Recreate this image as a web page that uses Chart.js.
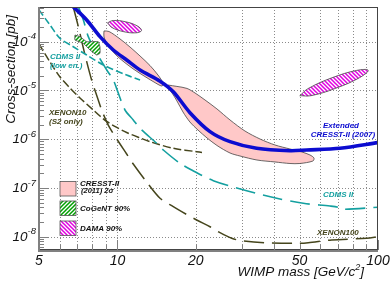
<!DOCTYPE html>
<html>
<head>
<meta charset="utf-8">
<script src="https://cdn.jsdelivr.net/npm/chart.js@4.4.1/dist/chart.umd.min.js"></script>
<style>
  html, body { margin: 0; padding: 0; background: #fff; }
  #wrap { width: 390px; height: 282px; }
</style>
</head>
<body>
<div id="wrap"><canvas id="limites" width="390" height="282"></canvas></div>
<script>
// Limites de seção de choque WIMP-núcleon [pb] x massa do WIMP [GeV/c²]
const xMin = 5, xMax = 100;
const yMin = 5.33e-9, yMax = 5.15e-4;

const xGrid = [6, 7, 8, 9, 10, 20, 30, 40, 50, 60, 70, 80, 90];
const xLabels = [5, 10, 20, 50, 100];
const yDecades = [-8, -7, -6, -5, -4];

// CRESST-II 2007 (linha azul)
const cresstM = [6.75, 7.62, 8.57, 9.64, 10.85, 12.21, 14.57, 16.38, 18.98, 22.66, 27.04, 34.22, 45.93, 53.24, 71.45, 100];
const cresstS = [5.3e-4, 2.79e-4, 1.27e-4, 6.76e-5, 4.21e-5, 2.63e-5, 1.55e-5, 9.4e-6, 3.5e-6, 1.43e-6, 8.9e-7, 6.5e-7, 5.8e-7, 6.0e-7, 6.5e-7, 8.5e-7];

// CDMS II baixa energia
const cdmsLowM = [5.0, 5.51, 6.02, 6.77, 7.62, 8.83, 10.85, 12.21];
const cdmsLowS = [4.47e-4, 2.20e-4, 1.17e-4, 7.89e-5, 5.33e-5, 3.33e-5, 2.07e-5, 1.64e-5];

// CDMS II
const cdmsM = [7.08, 7.40, 7.73, 8.20, 8.70, 9.10, 9.64, 10.08, 10.69, 11.50, 12.21, 14.14, 15.0, 17.38, 19.28, 23.33, 31.33, 40.84, 51.67, 65.4, 70.38, 72.54, 100];
const cdmsS = [5.22e-4, 2.79e-4, 1.27e-4, 6.76e-5, 3.89e-5, 2.63e-5, 1.64e-5, 8.74e-6, 3.97e-6, 2.48e-6, 1.67e-6, 8.24e-7, 6.0e-7, 3.2e-7, 2.33e-7, 1.41e-7, 8.78e-8, 6.13e-8, 4.84e-8, 4.26e-8, 4.01e-8, 3.65e-8, 4.01e-8];

// XENON10 (S2 only)
const xe10M = [5.0, 5.51, 6.02, 6.58, 7.18, 8.08, 8.57, 9.10, 9.94, 10.85, 12.21, 13.33, 16.38, 20.14, 21.11];
const xe10S = [8.97e-5, 3.83e-5, 1.89e-5, 1.12e-5, 7.0e-6, 3.97e-6, 2.99e-6, 2.31e-6, 1.74e-6, 1.37e-6, 1.06e-6, 8.89e-7, 6.51e-7, 5.54e-7, 5.33e-7];

// XENON100
const xe100M = [6.77, 7.08, 7.51, 7.96, 8.44, 8.70, 9.22, 9.94, 10.85, 11.50, 12.95, 14.57, 16.38, 17.64, 20.14, 22.66, 24.75, 27.45, 29.98, 36.83, 49.43, 54.0, 66.4, 90.46, 100];
const xe100S = [5.15e-4, 2.03e-4, 5.33e-5, 1.64e-5, 6.37e-6, 3.97e-6, 1.95e-6, 1.01e-6, 4.97e-7, 3.10e-7, 1.32e-7, 6.13e-8, 4.12e-8, 3.26e-8, 2.20e-8, 1.60e-8, 1.21e-8, 9.27e-9, 8.28e-9, 7.53e-9, 7.32e-9, 7.53e-9, 8.56e-9, 9.27e-9, 1.0e-8];

// CRESST-II (2011) 2 sigma - duas regiões
const blob1M = [8.88, 9.28, 10.23, 11.17, 12.21, 13.33, 14.31, 14.96, 14.82, 13.81, 12.65, 11.58, 10.60, 9.79, 9.20, 8.88, 8.88];
const blob1S = [1.66e-4, 1.62e-4, 1.14e-4, 7.79e-5, 5.09e-5, 3.25e-5, 2.07e-5, 1.42e-5, 1.23e-5, 1.49e-5, 1.98e-5, 2.69e-5, 3.83e-5, 5.60e-5, 8.56e-5, 1.25e-4, 1.66e-4];
const blob2M = [15.63, 16.92, 18.49, 19.85, 21.68, 24.10, 27.04, 30.87, 35.24, 40.24, 45.93, 51.07, 54.82, 56.79, 56.28, 50.17, 45.93, 40.24, 34.31, 29.53, 27.04, 24.10, 22.07, 20.38, 18.98, 17.85, 16.92, 16.20, 15.63, 15.63];
const blob2S = [1.29e-5, 1.21e-5, 1.10e-5, 8.87e-6, 6.37e-6, 4.17e-6, 2.48e-6, 1.47e-6, 1.01e-6, 7.60e-7, 6.30e-7, 5.46e-7, 4.74e-7, 4.11e-7, 3.57e-7, 3.17e-7, 3.17e-7, 3.41e-7, 3.74e-7, 4.52e-7, 5.21e-7, 7.43e-7, 1.06e-6, 1.54e-6, 2.25e-6, 3.61e-6, 6.08e-6, 8.87e-6, 1.12e-5, 1.29e-5];

// CoGeNT 90%
const cogentM = [6.87, 7.18, 7.62, 8.44, 8.57, 8.57, 8.32, 7.85, 7.40, 6.87, 6.87];
const cogentS = [1.37e-4, 1.27e-4, 1.0e-4, 1.0e-4, 7.79e-5, 5.78e-5, 5.33e-5, 6.76e-5, 9.27e-5, 1.08e-4, 1.37e-4];

// DAMA 90% - duas regiões
const dama1M = [9.16, 9.64, 10.75, 11.93, 12.37, 11.76, 10.54, 9.51, 9.16];
const dama1S = [2.44e-4, 2.72e-4, 2.56e-4, 2.10e-4, 1.69e-4, 1.52e-4, 1.61e-4, 1.96e-4, 2.44e-4];
const dama2M = [50.09, 54.05, 66.6, 82.9, 91.7, 84.97, 68.9, 55.4, 50.09];
const dama2S = [7.80e-6, 1.10e-5, 1.82e-5, 2.58e-5, 2.59e-5, 1.83e-5, 1.11e-5, 7.82e-6, 7.80e-6];

const FONTE = '"Liberation Sans", Arial, Helvetica, sans-serif';
const AZUL = '#0c0cd0', TEAL = '#14a0a0', OLIVA = '#45451c', ROSA = '#ffc8c8';

const pts = (ms, ss) => ms.map((m, i) => ({ x: m, y: ss[i] }));

const canvas = document.getElementById('limites');
const ctx0 = canvas.getContext('2d');

// padrão hachurado ('/' ou '\')
function hachura(cor, dir) {
  const s = 4;
  const c = document.createElement('canvas');
  c.width = s; c.height = s;
  const g = c.getContext('2d');
  g.fillStyle = '#fff'; g.fillRect(0, 0, s, s);
  g.strokeStyle = cor; g.lineWidth = 1.5;
  g.beginPath();
  if (dir > 0) {
    g.moveTo(-1, s + 1); g.lineTo(s + 1, -1);
    g.moveTo(-1, 1); g.lineTo(1, -1);
    g.moveTo(s - 1, s + 1); g.lineTo(s + 1, s - 1);
  } else {
    g.moveTo(-1, -1); g.lineTo(s + 1, s + 1);
    g.moveTo(s - 1, -1); g.lineTo(s + 1, 1);
    g.moveTo(-1, s - 1); g.lineTo(1, s + 1);
  }
  g.stroke();
  return ctx0.createPattern(c, 'repeat');
}
const VERDE_H = hachura('#00a000', 1);
const MAGENTA_H = hachura('#e000e0', -1);

const curva = (label, ms, ss, cor, largura, dash, order) => ({
  label, data: pts(ms, ss), showLine: true, borderColor: cor, borderWidth: largura,
  borderDash: dash, pointRadius: 0, tension: 0.3, fill: false, order
});
const regiao = (label, ms, ss, fundo, tensao) => ({
  label, data: pts(ms, ss), showLine: true, borderColor: '#444', borderWidth: 0.8,
  backgroundColor: fundo, pointRadius: 0, tension: tensao, fill: 'shape', order: 1
});

// textos de anotação
const anotacoes = [
  { t: 'CDMS II', x: 50, y: 56.5, c: TEAL },
  { t: '(low en.)', x: 50, y: 65.5, c: TEAL },
  { t: 'XENON10', x: 49, y: 112.5, c: OLIVA },
  { t: '(S2 only)', x: 49, y: 121.5, c: OLIVA },
  { t: 'Extended', x: 341, y: 125.5, c: AZUL, a: 'center' },
  { t: 'CRESST-II (2007)', x: 343, y: 134.5, c: AZUL, a: 'center' },
  { t: 'CDMS II', x: 323, y: 195, c: TEAL },
  { t: 'XENON100', x: 317, y: 232.5, c: OLIVA },
  { t: 'CRESST-II', x: 80, y: 183.5, c: '#111' },
  { t: '(2011) 2σ', x: 81, y: 190.5, c: '#111', s: 7.5 },
  { t: 'CoGeNT 90%', x: 80, y: 208.5, c: '#111' },
  { t: 'DAMA 90%', x: 80, y: 228.5, c: '#111' }
];

const eixos = {
  id: 'eixos',
  beforeDatasetsDraw(chart) {
    const { ctx, chartArea: a, scales: { x, y } } = chart;
    ctx.save();
    ctx.strokeStyle = '#8a8a8a';
    ctx.lineWidth = 1;
    ctx.setLineDash([1, 2]);
    xGrid.forEach(v => {
      const px = Math.round(x.getPixelForValue(v)) + 0.5;
      ctx.beginPath(); ctx.moveTo(px, a.top); ctx.lineTo(px, a.bottom); ctx.stroke();
    });
    yDecades.forEach(d => {
      const py = Math.round(y.getPixelForValue(Math.pow(10, d))) + 0.5;
      ctx.beginPath(); ctx.moveTo(a.left, py); ctx.lineTo(a.right, py); ctx.stroke();
    });
    ctx.restore();
  },
  afterDatasetsDraw(chart) {
    const { ctx, chartArea: a, scales: { x, y } } = chart;
    ctx.save();
    // moldura
    ctx.strokeStyle = '#444';
    ctx.lineWidth = 1;
    ctx.strokeRect(a.left + 0.5, a.top + 0.5, a.right - a.left - 1, a.bottom - a.top - 1);
    ctx.strokeStyle = '#808080';
    ctx.lineWidth = 2;
    ctx.beginPath();
    ctx.moveTo(a.left, a.top); ctx.lineTo(a.left, a.bottom + 1); ctx.lineTo(a.right, a.bottom + 1);
    ctx.stroke();

    // marcas do eixo x
    ctx.lineWidth = 1;
    [xMin].concat(xGrid, [xMax]).forEach(v => {
      const px = Math.round(x.getPixelForValue(v)) + 0.5;
      const len = (v === 10 || v === 100) ? 10 : 5;
      ctx.beginPath(); ctx.moveTo(px, a.bottom); ctx.lineTo(px, a.bottom - len); ctx.stroke();
    });
    // marcas do eixo y
    for (let d = -9; d <= -4; d++) {
      for (let k = 1; k <= 9; k++) {
        const v = k * Math.pow(10, d);
        if (v < yMin || v > yMax) continue;
        const py = Math.round(y.getPixelForValue(v)) + 0.5;
        const len = k === 1 ? 10 : 5;
        ctx.beginPath(); ctx.moveTo(a.left, py); ctx.lineTo(a.left + len, py); ctx.stroke();
      }
    }

    // rótulos
    ctx.fillStyle = '#111';
    ctx.textBaseline = 'middle';
    ctx.font = `italic 14px ${FONTE}`;
    ctx.textAlign = 'center';
    xLabels.forEach(v => ctx.fillText(String(v), x.getPixelForValue(v), 261));

    yDecades.forEach(d => {
      const py = y.getPixelForValue(Math.pow(10, d));
      const exp = String(d);
      ctx.font = `italic 9.5px ${FONTE}`;
      const we = ctx.measureText(exp).width;
      ctx.font = `italic 13.5px ${FONTE}`;
      const wb = ctx.measureText('10').width;
      ctx.textAlign = 'left';
      ctx.fillText('10', 36 - we - wb, py + 0.5);
      ctx.font = `italic 9.5px ${FONTE}`;
      ctx.fillText(exp, 36 - we, py - 5);
    });

    // títulos dos eixos
    ctx.textBaseline = 'alphabetic';
    ctx.font = `italic 13.5px ${FONTE}`;
    ctx.save();
    ctx.translate(14.5, 15);
    ctx.rotate(-Math.PI / 2);
    ctx.textAlign = 'right';
    ctx.fillText('Cross-section [pb]', 0, 0);
    ctx.restore();

    const t1 = 'WIMP mass [GeV/c', t2 = '2', t3 = ']';
    ctx.font = `italic 13.5px ${FONTE}`;
    const w1 = ctx.measureText(t1).width, w3 = ctx.measureText(t3).width;
    ctx.font = `italic 9px ${FONTE}`;
    const w2 = ctx.measureText(t2).width;
    let xx = 364 - w1 - w2 - w3;
    ctx.textAlign = 'left';
    ctx.font = `italic 13.5px ${FONTE}`;
    ctx.fillText(t1, xx, 276);
    ctx.font = `italic 9px ${FONTE}`;
    ctx.fillText(t2, xx + w1, 270);
    ctx.font = `italic 13.5px ${FONTE}`;
    ctx.fillText(t3, xx + w1 + w2, 276);

    // legenda
    const caixas = [[181.5, ROSA], [201, VERDE_H], [221, MAGENTA_H]];
    caixas.forEach(([ty, f]) => {
      ctx.fillStyle = f;
      ctx.fillRect(60, ty, 16, 14.5);
      ctx.strokeStyle = '#555';
      ctx.lineWidth = 0.8;
      ctx.strokeRect(60, ty, 16, 14.5);
    });

    // anotações
    ctx.textBaseline = 'middle';
    anotacoes.forEach(n => {
      ctx.font = `italic bold ${n.s || 8}px ${FONTE}`;
      ctx.fillStyle = n.c;
      ctx.textAlign = n.a || 'left';
      ctx.fillText(n.t, n.x, n.y);
    });
    ctx.restore();
  }
};

new Chart(canvas, {
  type: 'scatter',
  data: {
    datasets: [
      curva('Extended CRESST-II (2007)', cresstM, cresstS, AZUL, 3.6, [], 0),
      regiao('CRESST-II (2011) 2σ', blob1M, blob1S, ROSA, 0.3),
      regiao('CRESST-II (2011) 2σ b', blob2M, blob2S, ROSA, 0.3),
      regiao('CoGeNT 90%', cogentM, cogentS, VERDE_H, 0.1),
      regiao('DAMA 90%', dama1M, dama1S, MAGENTA_H, 0.4),
      regiao('DAMA 90% b', dama2M, dama2S, MAGENTA_H, 0.4),
      curva('CDMS II (low en.)', cdmsLowM, cdmsLowS, TEAL, 1.6, [7, 3], 2),
      curva('CDMS II', cdmsM, cdmsS, TEAL, 1.6, [20, 8], 2),
      curva('XENON10 (S2 only)', xe10M, xe10S, OLIVA, 1.5, [8, 3], 2),
      curva('XENON100', xe100M, xe100S, OLIVA, 1.5, [20, 8], 2)
    ]
  },
  options: {
    responsive: false,
    animation: false,
    layout: { padding: { left: 0, right: 12, top: 7, bottom: 0 } },
    plugins: { legend: { display: false }, tooltip: { enabled: false } },
    scales: {
      x: {
        type: 'logarithmic', min: xMin, max: xMax,
        grid: { display: false }, border: { display: false }, ticks: { display: false },
        afterFit: s => { s.height = 32; }
      },
      y: {
        type: 'logarithmic', min: yMin, max: yMax,
        grid: { display: false }, border: { display: false }, ticks: { display: false },
        afterFit: s => { s.width = 39; }
      }
    }
  },
  plugins: [eixos]
});
</script>
</body>
</html>
